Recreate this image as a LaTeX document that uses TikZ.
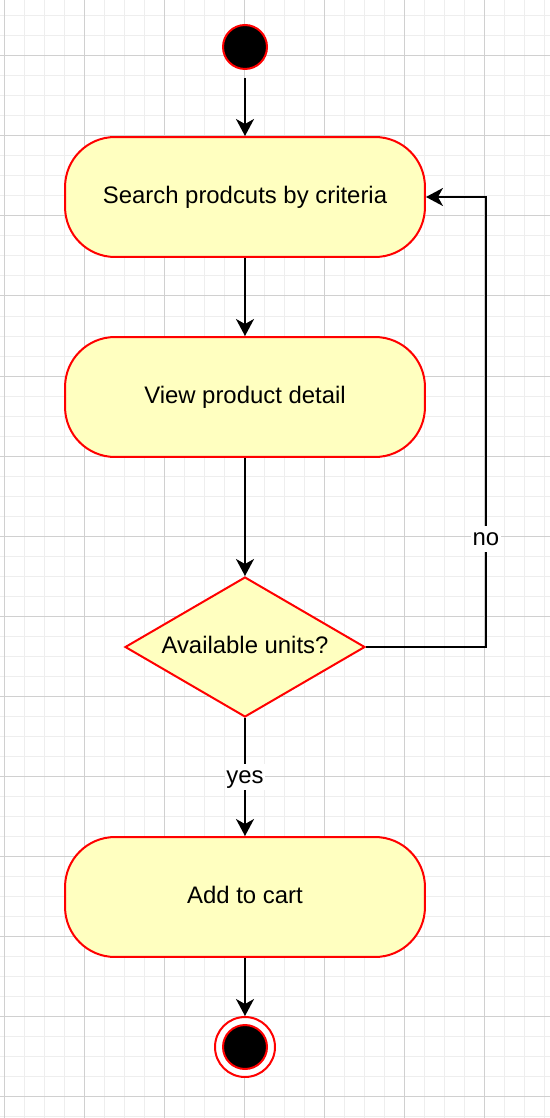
\documentclass[tikz,border=0pt]{standalone}
\usepackage{fontspec}
\setmainfont{Liberation Sans}
\usetikzlibrary{shapes.geometric}
\usetikzlibrary{arrows.meta}

\definecolor{umlRed}{HTML}{FF0000}
\definecolor{umlFill}{HTML}{FFFFC0}
\definecolor{gridMinor}{HTML}{EEEEEE}
\definecolor{gridMajor}{HTML}{D0D0D0}

\tikzset{
	umlText/.style={font=\fontsize{13.6}{16}\selectfont, text height=1em, text depth=0.25em},
	actionNode/.style={umlText, draw=umlRed, fill=umlFill, line width=0.04cm, rounded corners=1cm, minimum width=7.2cm, minimum height=2.4cm},
	decisionNode/.style={umlText, diamond, aspect=1.714, draw=umlRed, fill=umlFill, line width=0.04cm, inner sep=0pt, minimum width=4.8cm, minimum height=2.8cm},
	startNode/.style={circle, draw=umlRed, fill=black, line width=0.04cm, inner sep=0pt, minimum size=0.88cm},
	endRing/.style={circle, draw=umlRed, fill=white, line width=0.04cm, inner sep=0pt, minimum size=1.2cm},
	flowArrow/.style={line width=0.04cm, -{Stealth[length=0.34cm, width=0.36cm, inset=0.1cm]}},
	edgeLabel/.style={umlText, fill=white, inner sep=1pt}
}

\begin{document}
\begin{tikzpicture}[x=0.02cm, y=-0.02cm]
	\useasboundingbox (0,0) rectangle (550,1118);
	
	% grid
	\foreach \x in {4,24,...,544}
		\draw[gridMinor, line width=0.02cm] (\x,0) -- (\x,1118);
	\foreach \y in {16,36,...,1116}
		\draw[gridMinor, line width=0.02cm] (0,\y) -- (550,\y);
	\foreach \x in {4,84,...,484}
		\draw[gridMajor, line width=0.02cm] (\x,0) -- (\x,1118);
	\foreach \y in {56,136,...,1096}
		\draw[gridMajor, line width=0.02cm] (0,\y) -- (550,\y);
	
	\node[startNode] (start) at (245,47) {};
	\node[actionNode] (search) at (245,197) {Search prodcuts by criteria};
	\node[actionNode] (detail) at (245,397) {View product detail};
	\node[decisionNode] (avail) at (245,647) {Available units?};
	\node[actionNode] (cart) at (245,897) {Add to cart};
	\node[endRing] (finish) at (245,1047) {};
	\node[startNode] (finishDot) at (245,1047) {};
	
	\draw[flowArrow, shorten <=0.16cm] (start) -- (search);
	\draw[flowArrow] (search) -- (detail);
	\draw[flowArrow] (detail) -- (avail);
	\draw[flowArrow] (avail) -- node[edgeLabel] {yes} (cart);
	\draw[flowArrow] (avail.east) -| node[edgeLabel, pos=0.62] {no} ([xshift=1.2cm]search.east) -- (search.east);
	\draw[flowArrow] (cart) -- (finish);
\end{tikzpicture}
\end{document}
